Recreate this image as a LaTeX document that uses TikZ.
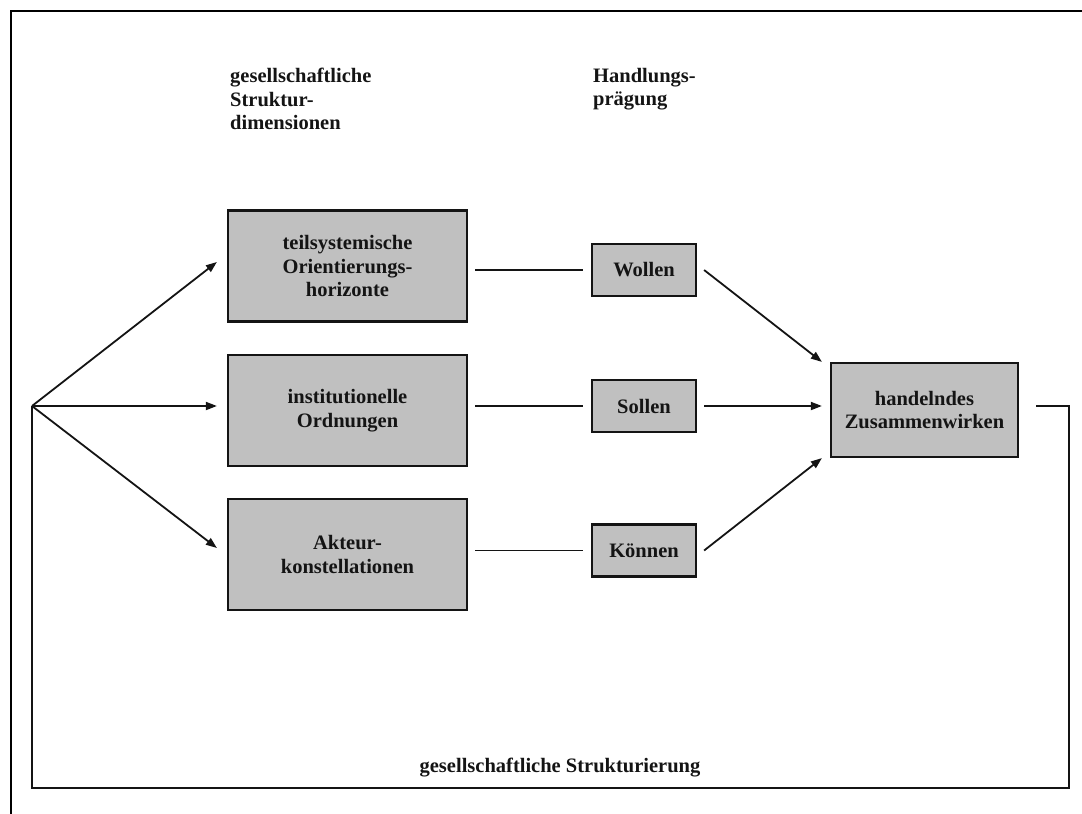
\documentclass[tikz,border=0pt]{standalone}
\usepackage{fontspec}
\setmainfont{Liberation Serif}
\usetikzlibrary{arrows.meta}
\definecolor{boxgray}{RGB}{192,192,192}
\definecolor{ink}{RGB}{20,20,20}
\begin{document}
\begin{tikzpicture}[x=1pt,y=-1pt,
  txt/.style={font=\bfseries\fontsize{20.5}{23.5}\selectfont, inner sep=0pt, text=ink},
  box/.style={txt, draw=ink, line width=2.2pt, fill=boxgray, align=center},
  bigbox/.style={box, minimum width=239pt, minimum height=111pt},
  smallbox/.style={box, minimum width=104pt, minimum height=52pt},
  conn/.style={draw=ink, line width=1.8pt},
  arr/.style={conn, -{Triangle[length=11pt,width=8pt]}},
  frame/.style={draw=black, line width=2.4pt}]
\useasboundingbox (0,0) rectangle (1082,814);

% outer frame (top and left edge only)
\draw[frame] (11,814) -- (11,11) -- (1082,11);

% column headings
\node[txt, anchor=north west, align=left] (hstruct) at (230,68)
  {gesellschaftliche\\Struktur-\\dimensionen};
\node[txt, anchor=north west, align=left] (hhandl) at (593,68)
  {Handlungs-\\prägung};

% structural dimensions
\node[bigbox] (b1) at (347.5,266) {teilsystemische\\Orientierungs-\\horizonte};
\node[bigbox] (b2) at (347.5,410.5) {institutionelle\\Ordnungen};
\node[bigbox] (b3) at (347.5,554.5) {Akteur-\\konstellationen};

% shaping of action
\node[smallbox] (w) at (644,270) {Wollen};
\node[smallbox] (s) at (644,406) {Sollen};
\node[smallbox] (k) at (644,550.5) {Können};

% interaction
\node[box, minimum width=187pt, minimum height=94pt] (h) at (924.5,410)
  {handelndes\\Zusammenwirken};

% feedback label
\node[txt] (gs) at (560,768) {gesellschaftliche Strukturierung};

% branching point and loop corner
\coordinate (o) at (32,406);
\coordinate (lr) at (1069,788);

% arrows into the structural dimensions
\draw[arr] (o) -- ([xshift=-10pt,yshift=4pt]b1.west);
\draw[arr] (o) -- ([xshift=-10pt]b2.west |- o);
\draw[arr] (o) -- ([xshift=-10pt,yshift=6.5pt]b3.west);

% links dimension -> action shaping
\draw[conn] ([xshift=7pt]b1.east |- w.west) -- ([xshift=-8pt]w.west);
\draw[conn] ([xshift=7pt]b2.east |- s.west) -- ([xshift=-8pt]s.west);
\draw[conn] ([xshift=7pt]b3.east |- k.west) -- ([xshift=-8pt]k.west);

% arrows into the interaction box
\draw[arr] ([xshift=7pt]w.east) -- ([xshift=-8pt]h.north west);
\draw[arr] ([xshift=7pt]s.east) -- ([xshift=-8pt]h.west |- s.east);
\draw[arr] ([xshift=7pt]k.east) -- ([xshift=-8pt]h.south west);

% feedback loop back to the branching point
\draw[conn] ([xshift=17pt]h.east |- o) -| (lr) -| (o);
\end{tikzpicture}
\end{document}
